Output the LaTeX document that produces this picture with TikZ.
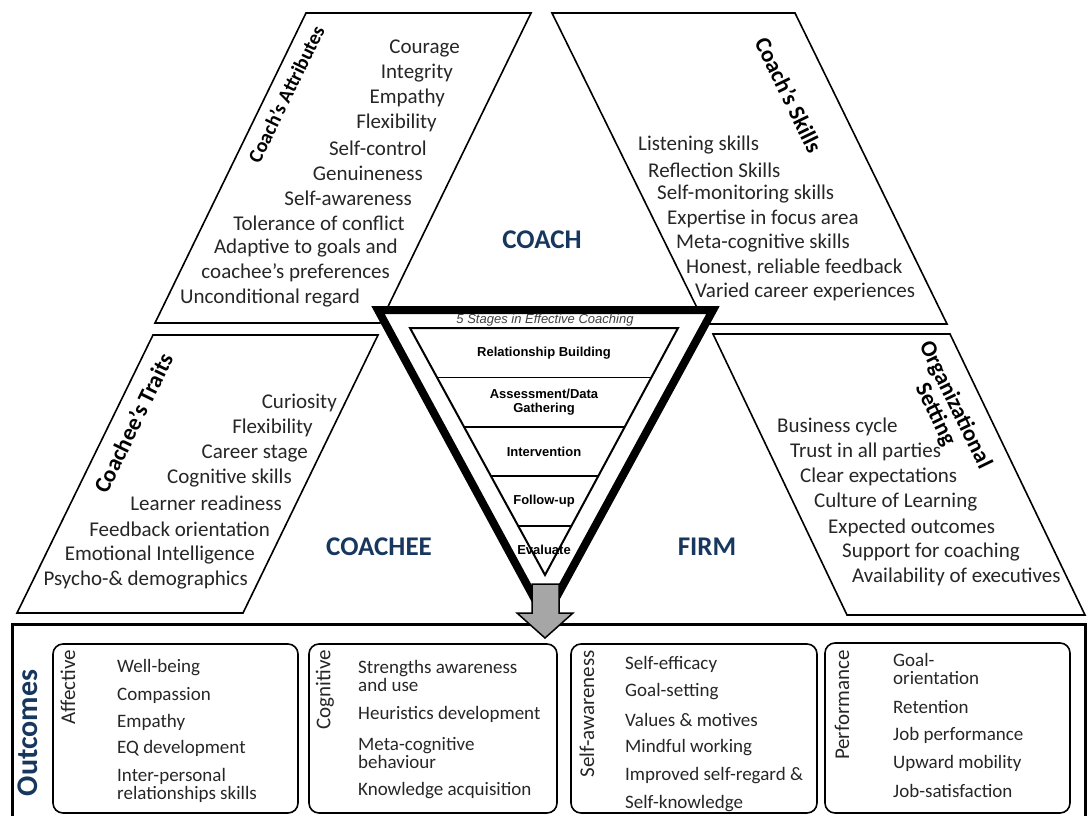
\documentclass[tikz,border=0pt]{standalone}
\usepackage{fontspec}
\setmainfont{Carlito}
\newfontfamily\arialfont{Liberation Sans}
\usetikzlibrary{calc}
\definecolor{navy}{HTML}{17375E}
\definecolor{txtgray}{HTML}{262626}
\definecolor{arrowgray}{HTML}{A6A6A6}
\tikzset{
	panel/.style={draw, line width=1.6pt, fill=white},
	listitem/.style={font=\fontsize{21}{24}\selectfont, text=txtgray, inner sep=0pt},
	paneltitle/.style={font=\bfseries\fontsize{23}{22}\selectfont, inner sep=0pt, align=center},
	party/.style={font=\bfseries\fontsize{27}{30}\selectfont, text=navy, inner sep=0pt},
	stagelabel/.style={font=\arialfont\bfseries\fontsize{13}{14}\selectfont, inner sep=0pt, align=center},
	outbox/.style={draw, line width=1.6pt, rounded corners=10pt},
	outlabel/.style={font=\fontsize{21}{24}\selectfont, text=txtgray, rotate=90, anchor=east, inner sep=0pt},
	outitem/.style={font=\fontsize{19}{18}\selectfont, text=txtgray, anchor=west, inner sep=0pt, align=left},
}
\begin{document}
\begin{tikzpicture}[x=1pt, y=-1pt]
	\useasboundingbox (0,0) rectangle (1089,816);
	\clip (0,0) rectangle (1089,816);
	% four panels round the coaching funnel
	\draw[panel] (306,13) -- (531,13) -- (380,323) -- (155,323) -- cycle;
	\draw[panel] (552,13) -- (795,13) -- (947,324) -- (705,324) -- cycle;
	\draw[panel] (153,335) -- (378,335) -- (243,613) -- (17,613) -- cycle;
	\draw[panel] (713,334) -- (950,334) -- (1085,615) -- (847,615) -- cycle;
	\node[paneltitle, rotate=64, font=\bfseries\fontsize{20}{22}\selectfont] (attrtitle) at (286,94) {Coach’s Attributes};
	\node[paneltitle, rotate=-64] (skilltitle) at (789,95) {Coach’s Skills};
	\node[paneltitle, rotate=64] (traittitle) at (133,423) {Coachee’s Traits};
	\node[paneltitle, rotate=-64] (orgtitle) at (945,410) {Organizational\\Setting};
	\foreach \xr/\yr/\t [count=\i] in {460/48/Courage, 453/73/Integrity, 445/98/Empathy,
		437/123/Flexibility, 427/148/Self-control, 423/173/Genuineness, 412/198/Self-awareness,
		405/223/Tolerance of conflict, 398/248/Adaptive to goals and, 390/273/coachee’s preferences}
		\node[listitem, anchor=east] (attr\i) at (\xr,\yr) {\t};
	\node[listitem, anchor=west] (attr11) at (180,298) {Unconditional regard};
	\foreach \xl/\yl/\t [count=\i] in {638/145/Listening skills, 648/170/Reflection Skills,
		657/194/Self-monitoring skills, 667/219/Expertise in focus area, 676/243/Meta-cognitive skills,
		686/268/{Honest, reliable feedback}, 695/292/Varied career experiences}
		\node[listitem, anchor=west] (skill\i) at (\xl,\yl) {\t};
	\foreach \xr/\yr/\t [count=\i] in {337/403/Curiosity, 313/428/Flexibility, 308/453/Career stage,
		292/478/Cognitive skills, 282/503/Learner readiness, 270/529/Feedback orientation,
		255/555/Emotional Intelligence, 248/580/Psycho-\& demographics}
		\node[listitem, anchor=east] (trait\i) at (\xr,\yr) {\t};
	\foreach \xl/\yl/\t [count=\i] in {777/427/Business cycle, 790/452/Trust in all parties,
		800/477/Clear expectations, 814/502/Culture of Learning, 828/528/Expected outcomes,
		842/552/Support for coaching, 852/577/Availability of executives}
		\node[listitem, anchor=west] (org\i) at (\xl,\yl) {\t};
	\node[party] (coach) at (542,240) {COACH};
	\node[party] (coachee) at (379,547) {COACHEE};
	\node[party] (firm) at (707,547) {FIRM};
	% funnel
	\coordinate (tl) at (378,310);
	\coordinate (tr) at (713,310);
	\coordinate (tb) at (545,618);
	\draw[line width=8pt, fill=white] (tl) -- (tr) -- (tb) -- cycle;
	\coordinate (ftl) at (410,328);
	\coordinate (ftr) at (678,328);
	\coordinate (fb) at (545,575);
	\draw[line width=2pt] (ftl) -- (ftr) -- (fb) -- cycle;
	\foreach \f in {0.2,0.4,0.6,0.8}
		\draw[line width=1.8pt] ($(ftl)!\f!(fb)$) -- ($(ftr)!\f!(fb)$);
	\node[font=\arialfont\itshape\fontsize{13}{14}\selectfont, text=black!75, inner sep=0pt] (stagetitle) at (545,320) {5 Stages in Effective Coaching};
	\foreach \yl/\t [count=\i] in {353/Relationship Building, 402/{Assessment/Data\\Gathering},
		452/Intervention, 501/Follow-up, 550/Evaluate}
		\node[stagelabel] (stage\i) at (544,\yl) {\t};
	% outcomes
	\draw[line width=3pt] (12,624) rectangle (1085,840);
	\node[font=\bfseries\fontsize{30}{32}\selectfont, text=navy, rotate=90, inner sep=0pt] (outcomes) at (28,733) {Outcomes};
	\draw[outbox] (53,644) rectangle (298,813);
	\draw[outbox] (309,644) rectangle (557,813);
	\draw[outbox] (571,644) rectangle (817,813);
	\draw[outbox] (825,643) rectangle (1070,813);
	\node[outlabel] (affective) at (68,650) {Affective};
	\node[outlabel] (cognitive) at (325,650) {Cognitive};
	\node[outlabel] (selfaware) at (587,650) {Self-awareness};
	\node[outlabel] (performance) at (842,650) {Performance};
	\foreach \yl/\t [count=\i] in {668/Well-being, 695/Compassion, 722/Empathy, 748/EQ development,
		785/{Inter-personal\\relationships skills}}
		\node[outitem] (aff\i) at (117,\yl) {\t};
	\foreach \yl/\t [count=\i] in {676/{Strengths awareness\\and use}, 714/Heuristics development,
		753/{Meta-cognitive\\behaviour}, 791/Knowledge acquisition}
		\node[outitem] (cog\i) at (358,\yl) {\t};
	\foreach \yl/\t [count=\i] in {664/Self-efficacy, 692/Goal-setting, 720/Values \& motives,
		748/Mindful working, 776/Improved self-regard \&, 804/Self-knowledge}
		\node[outitem] (aware\i) at (625,\yl) {\t};
	\foreach \yl/\t [count=\i] in {669/{Goal-\\orientation}, 707/Retention, 735/Job performance,
		763/Upward mobility, 791/Job-satisfaction}
		\node[outitem] (perf\i) at (893,\yl) {\t};
	% arrow from the funnel into the outcomes
	\draw[line width=1.5pt, fill=arrowgray, line join=miter] (532,584) -- (559,584) -- (559,613) -- (573,613)
		-- (545,638) -- (517,613) -- (532,613) -- cycle;
\end{tikzpicture}
\end{document}
